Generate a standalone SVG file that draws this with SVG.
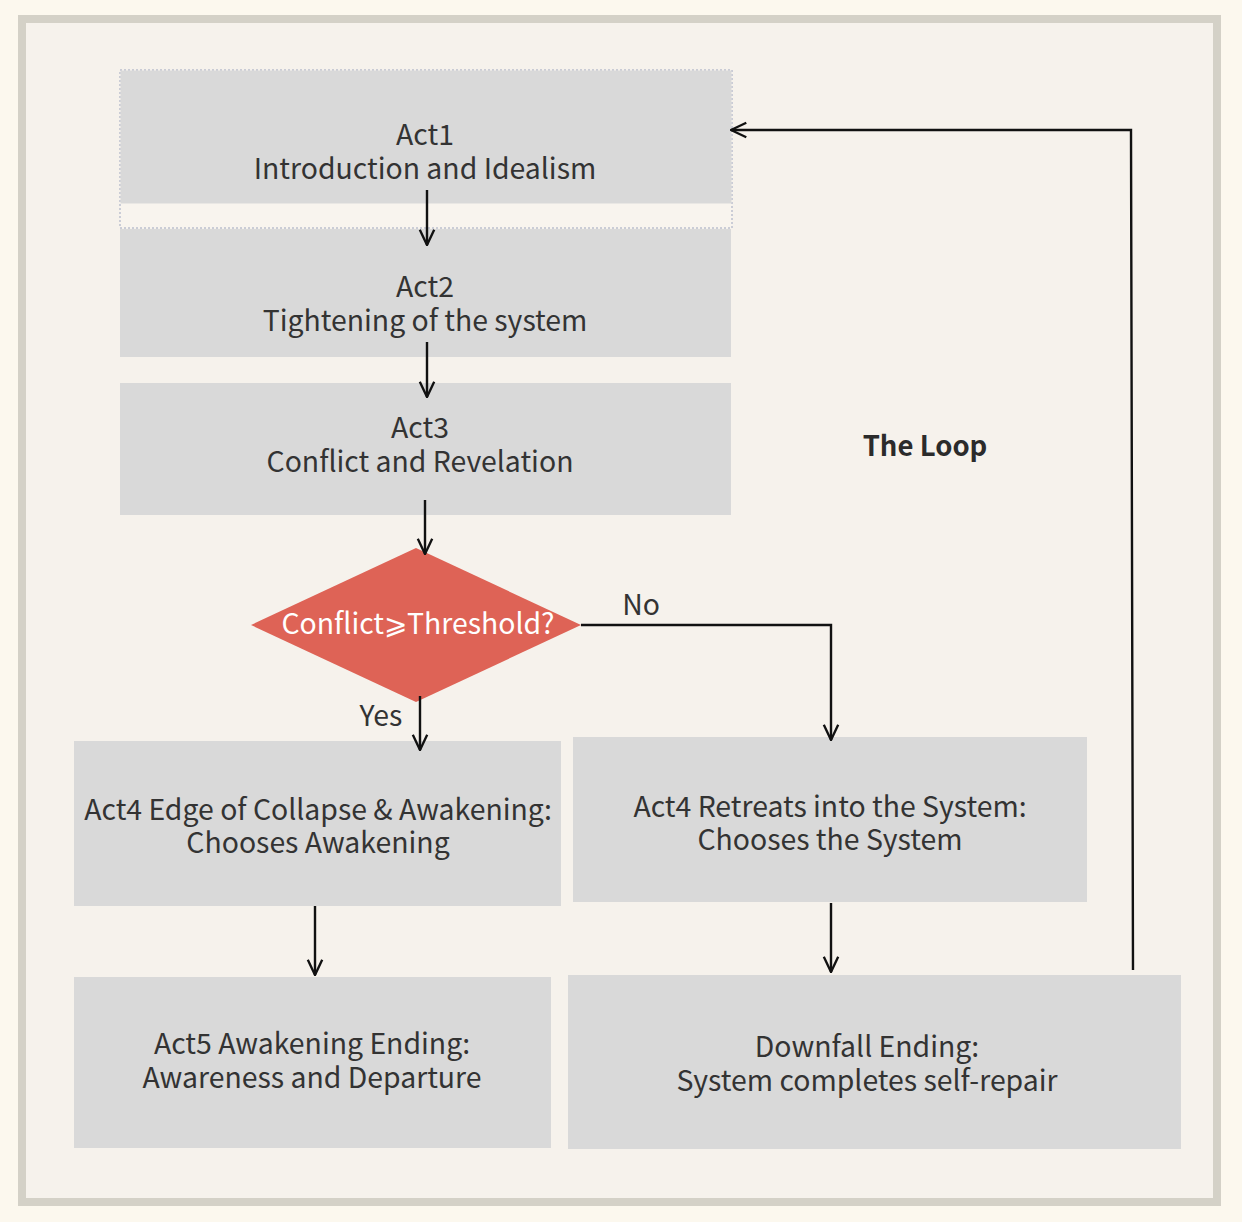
<svg xmlns="http://www.w3.org/2000/svg" width="1242" height="1222" viewBox="0 0 1242 1222">
<defs>
<style>
.box{fill:#d9d9d9;}
.t{font-family:"Noto Sans CJK SC","Noto Sans",sans-serif;font-size:28.4px;fill:#333333;text-anchor:middle;}
.w{fill:#ffffff;}
.b{font-weight:bold;fill:#2b2b2b;font-size:27.5px;}
.c{fill:none;stroke:#111111;stroke-width:2.4;}
</style>
<marker id="arr" viewBox="0 0 10 10" refX="9.5" refY="5" markerWidth="18" markerHeight="18" markerUnits="userSpaceOnUse" orient="auto">
<path d="M1,1 L9.5,5 L1,9" fill="none" stroke="#111111" stroke-width="1.3"/>
</marker>
</defs>
<rect x="0" y="0" width="1242" height="1222" fill="#fcf8ee"/>
<rect x="22" y="19" width="1195" height="1183" fill="#f6f2ec" stroke="#d4d1c7" stroke-width="8"/>

<g id="act1">
<rect x="120" y="70" width="612" height="158" fill="#f8f4ee" stroke="#9ea6bf" stroke-width="1" stroke-dasharray="2,2"/>
<rect class="box" x="120.5" y="70.5" width="611" height="133"/>
<text class="t" x="425" y="145">Act1</text>
<text class="t" x="425" y="179">Introduction and Idealism</text>
</g>
<g id="act2">
<rect class="box" x="120" y="229" width="611" height="128"/>
<text class="t" x="425" y="297">Act2</text>
<text class="t" x="425" y="331">Tightening of the system</text>
</g>
<g id="act3">
<rect class="box" x="120" y="383" width="611" height="132"/>
<text class="t" x="420" y="438">Act3</text>
<text class="t" x="420" y="472">Conflict and Revelation</text>
</g>
<g id="decision">
<polygon points="416,548 581,625 416,702 251,625" fill="#de6356"/>
<text class="t w" x="418" y="634">Conflict⩾Threshold?</text>
</g>
<g id="act4-awakening">
<rect class="box" x="74" y="741" width="487" height="165"/>
<text class="t" x="318" y="820">Act4 Edge of Collapse &amp; Awakening:</text>
<text class="t" x="318" y="853">Chooses Awakening</text>
</g>
<g id="act4-system">
<rect class="box" x="573" y="737" width="514" height="165"/>
<text class="t" x="830" y="817">Act4 Retreats into the System:</text>
<text class="t" x="830" y="850">Chooses the System</text>
</g>
<g id="act5">
<rect class="box" x="74" y="977" width="477" height="171"/>
<text class="t" x="312" y="1054">Act5 Awakening Ending:</text>
<text class="t" x="312" y="1088">Awareness and Departure</text>
</g>
<g id="downfall">
<rect class="box" x="568" y="975" width="613" height="174"/>
<text class="t" x="867" y="1057">Downfall Ending:</text>
<text class="t" x="867" y="1091">System completes self-repair</text>
</g>
<g id="label-loop">
<text class="t b" x="925" y="456">The Loop</text>
</g>

<g id="connectors">
<line class="c" x1="427" y1="190" x2="427" y2="245" marker-end="url(#arr)"/>
<line class="c" x1="427" y1="342" x2="427" y2="397" marker-end="url(#arr)"/>
<line class="c" x1="425" y1="500" x2="425" y2="554" marker-end="url(#arr)"/>
<line class="c" x1="420" y1="696" x2="420" y2="750" marker-end="url(#arr)"/>
<polyline class="c" points="581,625 831,625 831,740" marker-end="url(#arr)"/>
<line class="c" x1="315" y1="906" x2="315" y2="975" marker-end="url(#arr)"/>
<line class="c" x1="831" y1="903" x2="831" y2="972" marker-end="url(#arr)"/>
<polyline class="c" points="1133,970 1131,130 731,130" marker-end="url(#arr)"/>
<text class="t" x="381" y="726">Yes</text>
<text class="t" x="641" y="615">No</text>
</g>
</svg>
